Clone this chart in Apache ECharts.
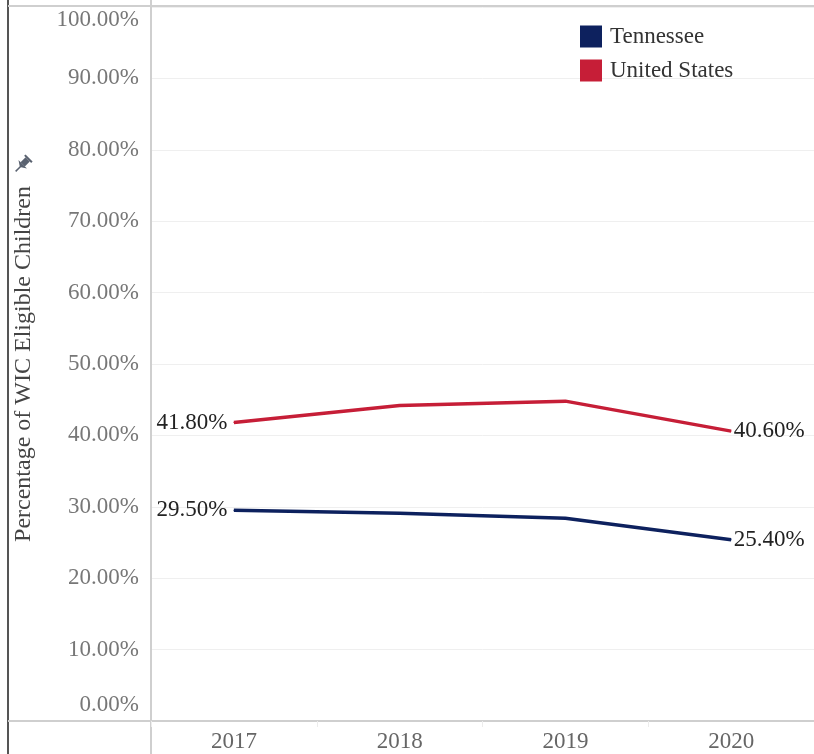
<!DOCTYPE html>
<html><head><meta charset="utf-8">
<script src="https://cdn.jsdelivr.net/npm/echarts@6/dist/echarts.min.js"></script>
<style>html,body{margin:0;padding:0;background:#fff}#c{width:814px;height:754px}</style>
</head><body><div id="c"></div>
<script>
const years = ['2017','2018','2019','2020'];
const tennessee = [29.5, 29.1, 28.4, 25.4];
const unitedStates = [41.8, 44.2, 44.8, 40.6];
const yTicks = [0,10,20,30,40,50,60,70,80,90,100];
const FONT = '"Liberation Serif", "Times New Roman", serif';

function buildData(vals){
  return vals.map((v,i)=>{
    const item = {value:v};
    if(i===0) item.label = {show:true, position:'left', distance:6};
    else if(i===vals.length-1) item.label = {show:true, position:'right', distance:2};
    return item;
  });
}

const chart = echarts.init(document.getElementById('c'), null, {renderer:'canvas'});
chart.setOption({
  animation:false,
  textStyle:{fontFamily:FONT},
  grid:{left:151, top:7, bottom:33, width:666, containLabel:false},
  legend:{
    orient:'vertical', left:575, top:20, itemWidth:22, itemHeight:22, itemGap:11,
    icon:'rect',
    textStyle:{fontFamily:FONT, fontSize:23, color:'#333', padding:[0,0,0,3]},
    data:['Tennessee','United States']
  },
  xAxis:{
    type:'category', data:years, boundaryGap:true,
    axisLine:{show:true, lineStyle:{color:'#cfcfcf', width:2}},
    axisTick:{show:true, length:6, lineStyle:{color:'#ececec'}},
    axisLabel:{fontFamily:FONT, fontSize:23, color:'#666', margin:9}
  },
  yAxis:{
    type:'value', min:0, max:100, interval:10,
    axisLine:{show:true, lineStyle:{color:'#cfcfcf', width:2}},
    axisTick:{show:false},
    splitLine:{show:true, lineStyle:{color:'#efefef', width:1}},
    axisLabel:{
      fontFamily:FONT, fontSize:23, color:'#777', margin:12,
      formatter:function(v){
        const t = v.toFixed(2)+'%';
        if(v===100) return '{a|'+t+'}';
        if(v===0) return '{b|'+t+'}';
        return t;
      },
      rich:{
        a:{fontFamily:FONT, fontSize:23, color:'#777', padding:[26,0,0,0]},
        b:{fontFamily:FONT, fontSize:23, color:'#777', padding:[0,0,32,0]}
      }
    },
    name:'Percentage of WIC Eligible Children',
    nameLocation:'middle', nameGap:115, nameRotate:90,
    nameTextStyle:{fontFamily:FONT, fontSize:24, color:'#444'}
  },
  series:[
    {
      name:'Tennessee', type:'line', data:buildData(tennessee),
      symbol:'circle', symbolSize:1, showSymbol:true,
      lineStyle:{color:'#0d215e', width:3.5}, itemStyle:{color:'#0d215e'},
      label:{show:false, fontFamily:FONT, fontSize:23, color:'#222',
        formatter:p=>p.value.toFixed(2)+'%'}
    },
    {
      name:'United States', type:'line', data:buildData(unitedStates),
      symbol:'circle', symbolSize:1, showSymbol:true,
      lineStyle:{color:'#c61e37', width:3.5}, itemStyle:{color:'#c61e37'},
      label:{show:false, fontFamily:FONT, fontSize:23, color:'#222',
        formatter:p=>p.value.toFixed(2)+'%'}
    }
  ],
  graphic:[
    {type:'line', shape:{x1:8,y1:0,x2:8,y2:754}, style:{stroke:'#555', lineWidth:2}, silent:true},
    {type:'line', shape:{x1:8,y1:6,x2:814,y2:6}, style:{stroke:'#cfcfcf', lineWidth:2}, silent:true},
    {type:'line', shape:{x1:151,y1:0,x2:151,y2:754}, style:{stroke:'#cfcfcf', lineWidth:2}, silent:true},
    {type:'line', shape:{x1:8,y1:721,x2:814,y2:721}, style:{stroke:'#cfcfcf', lineWidth:2}, silent:true},
    {type:'group', x:22, y:165, rotation:-Math.PI/4, silent:true, children:[
      {type:'rect', shape:{x:-3, y:-8, width:6, height:7}, style:{fill:'#5a6270'}},
      {type:'rect', shape:{x:-5, y:-10, width:10, height:2}, style:{fill:'#5a6270'}},
      {type:'polygon', shape:{points:[[-6,-1],[6,-1],[0,3]]}, style:{fill:'#5a6270'}},
      {type:'line', shape:{x1:0,y1:2,x2:0,y2:9}, style:{stroke:'#5a6270', lineWidth:1.5}}
    ]}
  ]
});
</script></body></html>
